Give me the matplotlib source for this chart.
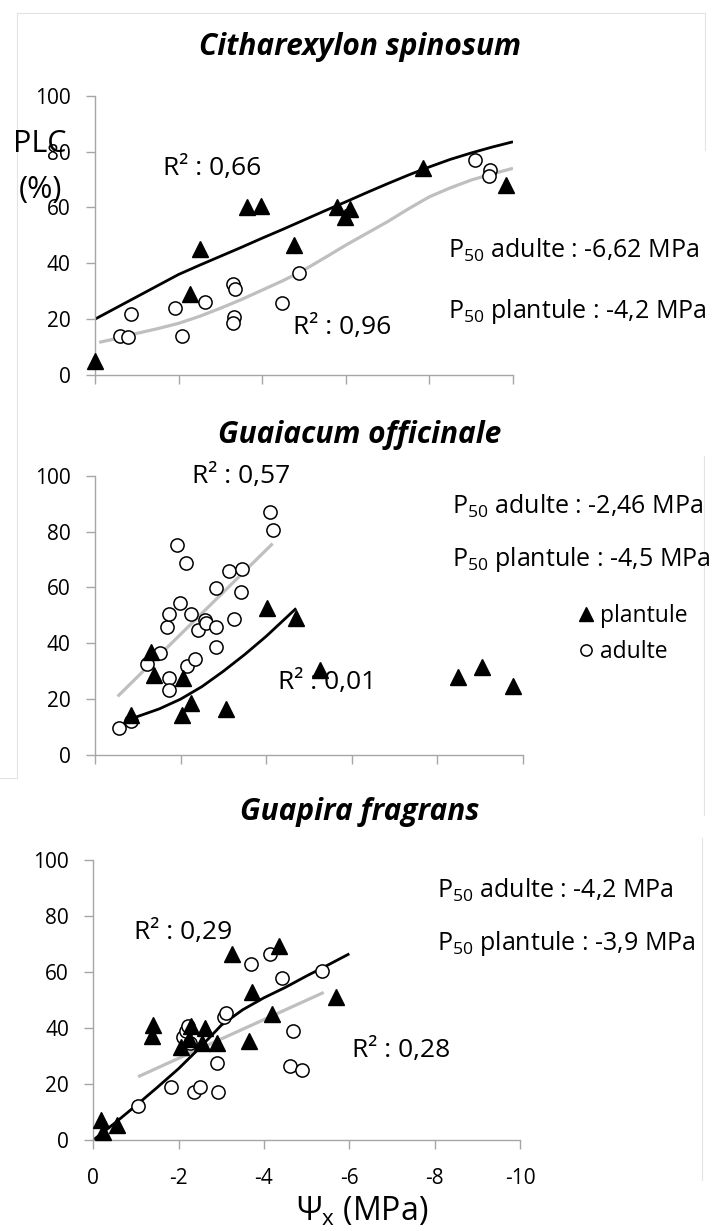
import matplotlib
matplotlib.use('Agg')
import matplotlib.pyplot as plt
from matplotlib.lines import Line2D

W, H = 718, 1231

plt.rcParams['font.family'] = ['Open Sans', 'DejaVu Sans']
plt.rcParams['mathtext.fontset'] = 'custom'
plt.rcParams['mathtext.rm'] = 'Open Sans'
plt.rcParams['mathtext.it'] = 'Open Sans:italic'
plt.rcParams['mathtext.bf'] = 'Open Sans:bold'

# Citharexylon spinosum
cs_plantule_x = [0, -2.27, -2.51, -3.63, -3.98, -4.76, -5.78, -5.98, -6.11, -7.85, -9.84]
cs_plantule_y = [5, 29, 45, 60, 60.5, 46.5, 60, 56.5, 59.5, 74, 68]
cs_adulte_x = [-0.61, -0.80, -0.85, -1.91, -2.07, -2.63, -3.31, -3.35, -3.32, -3.31,
               -4.48, -4.88, -9.08, -9.46, -9.43]
cs_adulte_y = [14, 13.5, 22, 24, 14, 26, 32.5, 30.8, 20.6, 18.5, 25.7, 36.6, 77, 73.4, 71.2]
cs_fit_pl_x = [0, -0.5, -1, -1.5, -2, -2.5, -3, -3.5, -4, -4.5, -5, -5.5, -6, -6.5, -7,
               -7.5, -8, -8.5, -9, -9.5, -10]
cs_fit_pl_y = [20, 24, 28, 32, 36, 39.3, 42.5, 45.7, 49, 52.2, 55.5, 58.8, 62, 65.3, 68.5,
               71.6, 74.5, 77.2, 79.5, 81.6, 83.5]
cs_fit_ad_x = [-0.1, -0.5, -1, -1.5, -2, -2.5, -3, -3.5, -4, -4.5, -5, -5.5, -6, -6.5, -7,
               -7.5, -8, -8.5, -9, -9.5, -10]
cs_fit_ad_y = [11.7, 13, 14.9, 16.6, 18.5, 21, 23.9, 27, 30.4, 33.8, 37.6, 42, 46.5, 50.7,
               54.9, 59.5, 63.8, 67, 69.8, 72, 74]

# Guaiacum officinale
go_plantule_x = [-0.85, -1.30, -1.37, -2.06, -2.04, -2.25, -3.07, -4.02, -4.70,
                 -5.26, -8.47, -9.05, -9.77]
go_plantule_y = [14.3, 37, 28.6, 27.4, 14.3, 18.5, 16.5, 52.5, 48.9, 30.6, 28, 31.5, 24.6]
go_adulte_x = [-0.57, -0.83, -1.21, -1.53, -1.73, -1.72, -1.69, -1.73, -1.91, -2.12,
               -1.98, -2.25, -2.14, -2.34, -2.41, -2.56, -2.60, -2.83, -2.82, -2.83,
               -3.12, -3.44, -3.42, -3.24, -4.09, -4.15]
go_adulte_y = [9.7, 12.3, 32.5, 36.6, 27.5, 23.3, 46, 50.5, 75.3, 68.6,
               54.3, 50.4, 32, 34.5, 44.9, 48.4, 47.4, 46, 38.7, 59.7,
               66, 66.5, 58.4, 48.6, 87, 80.6]
go_fit_pl_x = [-0.85, -1.5, -2, -2.5, -3, -3.5, -4, -4.7]
go_fit_pl_y = [13, 16.5, 20, 24.5, 30, 36, 42.5, 52.5]
go_fit_ad_x = [-0.53, -4.15]
go_fit_ad_y = [21, 75.7]

# Guapira fragrans
gf_plantule_x = [-0.19, -0.22, -0.55, -1.40, -1.37, -2.06, -2.24, -2.30, -2.62, -2.54,
                 -2.89, -3.24, -3.65, -3.73, -4.18, -4.35, -5.69]
gf_plantule_y = [7, 3, 5.2, 41, 37, 33.1, 36, 40.8, 40, 34.5,
                 34.5, 66.3, 35.4, 52.7, 44.9, 69.3, 51.2]
gf_adulte_x = [-1.05, -1.83, -2.35, -2.50, -2.92, -2.89, -2.10, -2.18, -2.22, -2.26,
               -3.06, -3.10, -3.69, -4.15, -4.42, -4.69, -4.60, -4.89, -5.35]
gf_adulte_y = [12.2, 19, 17, 18.8, 17, 27.5, 36.9, 39, 40.8, 34.8,
               43.8, 45.2, 62.8, 66.3, 57.8, 39, 26.5, 25, 60.2]
gf_fit_pl_x = [0, -0.5, -1, -1.5, -2, -2.5, -3, -3.5, -4, -4.5, -5, -5.5, -6]
gf_fit_pl_y = [0, 6, 12.3, 18.8, 25.5, 33, 41, 46.5, 50.8, 54.5, 58.6, 62.5, 66.5]
gf_fit_ad_x = [-1.05, -5.4]
gf_fit_ad_y = [22.6, 52.7]

titles = ['Citharexylon spinosum', 'Guaiacum officinale', 'Guapira fragrans']
r2_plantule = ['0,66', '0,01', '0,29']
r2_adulte = ['0,96', '0,57', '0,28']
p50_adulte = ['-6,62', '-2,46', '-4,2']
p50_plantule = ['-4,2', '-4,5', '-3,9']
y_ticks = [0, 20, 40, 60, 80, 100]
x_ticks = [0, -2, -4, -6, -8, -10]
x_ticklabels = ['0', '-2', '-4', '-6', '-8', '-10']

panels = [
    (cs_plantule_x, cs_plantule_y, cs_adulte_x, cs_adulte_y,
     cs_fit_pl_x, cs_fit_pl_y, cs_fit_ad_x, cs_fit_ad_y),
    (go_plantule_x, go_plantule_y, go_adulte_x, go_adulte_y,
     go_fit_pl_x, go_fit_pl_y, go_fit_ad_x, go_fit_ad_y),
    (gf_plantule_x, gf_plantule_y, gf_adulte_x, gf_adulte_y,
     gf_fit_pl_x, gf_fit_pl_y, gf_fit_ad_x, gf_fit_ad_y),
]


def fx(x):
    return x / W


def fy(y):
    return 1 - y / H


# axes boxes in pixels: left, top, right, bottom
boxes = [(95, 95.7, 513, 375), (95, 475.7, 523, 755), (93.3, 860, 520, 1140)]
title_y = [47, 435, 812]
r2_pl_pos = [(163, 168), (278, 683), (134, 932)]
r2_ad_pos = [(293, 327), (192, 476), (352, 1050)]
p50_pos = [(448, 250, 311), (452, 506, 560), (437, 890, 944)]

AXIS_GREY = '#a6a6a6'

fig = plt.figure(figsize=(W / 100, H / 100), dpi=100)

axes = []
for i, (l, t, r, b) in enumerate(boxes):
    ax = fig.add_axes([fx(l), fy(b), fx(r - l), (b - t) / H])
    axes.append(ax)
    plx, ply, adx, ady, fpx, fpy, fax, fay = panels[i]

    ax.plot(fax, fay, color='#bfbfbf', lw=2.3, solid_capstyle='butt', zorder=2)
    ax.plot(fpx, fpy, color='black', lw=2.0, solid_capstyle='butt', zorder=2)
    ax.plot(adx, ady, 'o', ms=9.5, mfc='white', mec='black', mew=1.1,
            clip_on=False, zorder=3, label='adulte')
    ax.plot(plx, ply, '^', ms=11.5, mfc='black', mec='black',
            clip_on=False, zorder=4, label='plantule')

    ax.set_xlim(0, -10)
    ax.set_ylim(0, 100)
    ax.set_xticks(x_ticks)
    ax.set_yticks(y_ticks)
    if i == 2:
        ax.set_xticklabels(x_ticklabels)
    else:
        ax.set_xticklabels([])
    for s in ['top', 'right']:
        ax.spines[s].set_visible(False)
    for s in ['left', 'bottom']:
        ax.spines[s].set_color(AXIS_GREY)
        ax.spines[s].set_linewidth(1.0)
    ax.tick_params(direction='out', length=6.5, width=1.0, color=AXIS_GREY,
                   labelsize=15, labelcolor='black')
    ax.tick_params(axis='x', pad=14)
    ax.tick_params(axis='y', pad=11)

    fig.text(fx(360), fy(title_y[i]), titles[i], ha='center', va='center',
             fontsize=21.5, fontweight='bold', fontstyle='italic')
    x, y = r2_pl_pos[i]
    fig.text(fx(x), fy(y), 'R² : ' + r2_plantule[i], ha='left', va='center', fontsize=19)
    x, y = r2_ad_pos[i]
    fig.text(fx(x), fy(y), 'R² : ' + r2_adulte[i], ha='left', va='center', fontsize=19)
    x, ya, yp = p50_pos[i]
    fig.text(fx(x), fy(ya), r'P$_{50}$ adulte : ' + p50_adulte[i] + ' MPa',
             ha='left', va='center', fontsize=18)
    fig.text(fx(x), fy(yp), r'P$_{50}$ plantule : ' + p50_plantule[i] + ' MPa',
             ha='left', va='center', fontsize=18)

# legend in the middle panel
h, lab = axes[1].get_legend_handles_labels()
leg = axes[1].legend(h[::-1], lab[::-1], loc='center left',
                     bbox_to_anchor=(fx(568), fy(634)), bbox_transform=fig.transFigure,
                     frameon=False, fontsize=16.5, handlelength=0.6, handletextpad=0.3,
                     labelspacing=0.55, borderpad=0, markerscale=0.85)

fig.text(fx(40), fy(144), 'PLC', ha='center', va='center', fontsize=22)
fig.text(fx(40), fy(190), '(%)', ha='center', va='center', fontsize=22)
fig.text(fx(362), fy(1212), r'$\Psi_{\mathrm{x}}$ (MPa)', ha='center', va='center',
         fontsize=23)

# faint chart-area borders
for xs, ys in [((17, 17), (13, 778)), ((17, 705), (13, 13)), ((0, 17), (778, 778)),
               ((705, 705), (13, 150)), ((704, 704), (456, 815)), ((702, 702), (838, 1180))]:
    fig.add_artist(Line2D([fx(v) for v in xs], [fy(v) for v in ys],
                          transform=fig.transFigure, color='#e3e3e3', lw=0.8))

fig.savefig('out.png', dpi=100)
